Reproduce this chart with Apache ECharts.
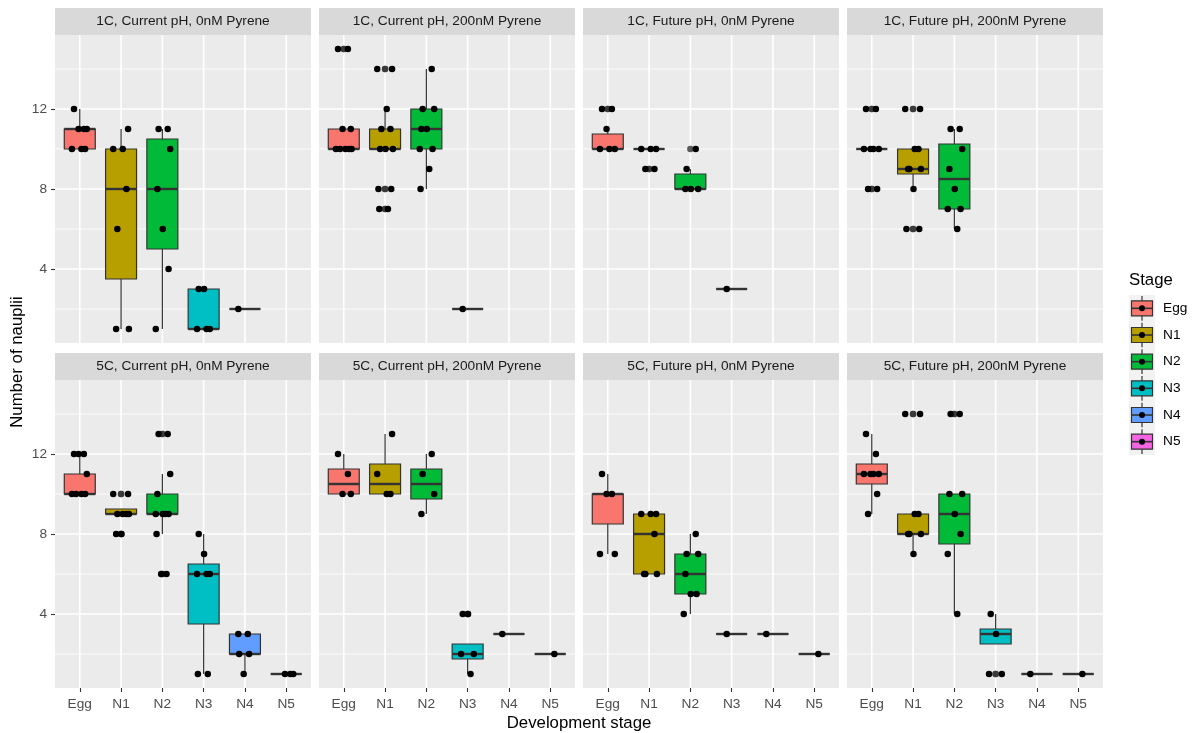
<!DOCTYPE html>
<html>
<head>
<meta charset="utf-8">
<script src="https://cdn.jsdelivr.net/npm/echarts@6/dist/echarts.min.js"></script>
<style>
  html, body { margin: 0; padding: 0; background: #ffffff; }
  #main { width: 1195px; height: 733px; }
</style>
</head>
<body>
<div id="main"></div>
<script>
// ---- data ----
const stages = ['Egg', 'N1', 'N2', 'N3', 'N4', 'N5'];
const stageColors = ['#F8766D', '#B79F00', '#00BA38', '#00BFC4', '#619CFF', '#F564E3'];
const panelTitles = [
  '1C, Current pH, 0nM Pyrene', '1C, Current pH, 200nM Pyrene',
  '1C, Future pH, 0nM Pyrene', '1C, Future pH, 200nM Pyrene',
  '5C, Current pH, 0nM Pyrene', '5C, Current pH, 200nM Pyrene',
  '5C, Future pH, 0nM Pyrene', '5C, Future pH, 200nM Pyrene'
];
const yTickValues = [4, 8, 12];
const yMinorValues = [2, 6, 10, 14];
const yLimits = [0.3, 15.7];

// box summaries per stage: [lower whisker, Q1, median, Q3, upper whisker]
const box1C_cur_0   = [[10, 10, 11, 11, 12], [1, 3.5, 8, 10, 11], [1, 5, 8, 10.5, 11], [1, 1, 1, 3, 3], [2, 2, 2, 2, 2], null];
const box1C_cur_200 = [[10, 10, 10, 11, 11], [10, 10, 10, 11, 12], [8, 10, 11, 12, 14], [2, 2, 2, 2, 2], null, null];
const box1C_fut_0   = [[10, 10, 10, 10.75, 11], [10, 10, 10, 10, 10], [8, 8, 8, 8.75, 9], [3, 3, 3, 3, 3], null, null];
const box1C_fut_200 = [[10, 10, 10, 10, 10], [8, 8.75, 9, 10, 10], [6, 7, 8.5, 10.25, 11], null, null, null];
const box5C_cur_0   = [[10, 10, 10, 11, 12], [9, 9, 9, 9.25, 9.25], [8, 9, 9, 10, 11], [1, 3.5, 6, 6.5, 8], [1, 2, 2, 3, 3], [1, 1, 1, 1, 1]];
const box5C_cur_200 = [[10, 10, 10.5, 11.25, 12], [10, 10, 10.5, 11.5, 13], [9, 9.75, 10.5, 11.25, 12], [1, 1.75, 2, 2.5, 2.5], [3, 3, 3, 3, 3], [2, 2, 2, 2, 2]];
const box5C_fut_0   = [[7, 8.5, 10, 10, 11], [6, 6, 8, 9, 9], [4, 5, 6, 7, 8], [3, 3, 3, 3, 3], [3, 3, 3, 3, 3], [2, 2, 2, 2, 2]];
const box5C_fut_200 = [[9, 10.5, 11, 11.5, 13], [7, 8, 8, 9, 9], [4, 7.5, 9, 10, 10], [2.5, 2.5, 3, 3.25, 4], [1, 1, 1, 1, 1], [1, 1, 1, 1, 1]];

// individual counts per stage
const pts1C_cur_0   = [[12, 11, 11, 11, 10, 10, 10], [11, 10, 10, 8, 6, 1, 1], [11, 11, 10, 8, 6, 4, 1], [3, 3, 1, 1, 1], [2], []];
const pts1C_cur_200 = [[15, 15, 11, 11, 10, 10, 10, 10, 10], [14, 14, 12, 11, 11, 10, 10, 10, 8, 8, 7, 7], [14, 12, 12, 11, 11, 10, 10, 9, 8], [2], [], []];
const pts1C_fut_0   = [[12, 12, 11, 10, 10, 10], [10, 10, 10, 9, 9], [10, 9, 8, 8, 8], [3], [], []];
const pts1C_fut_200 = [[12, 12, 10, 10, 10, 10, 8, 8], [12, 12, 10, 10, 9, 9, 9, 8, 6, 6], [11, 11, 10, 9, 8, 7, 7, 6], [], [], []];
const pts5C_cur_0   = [[12, 12, 12, 11, 10, 10, 10, 10], [10, 10, 9, 9, 9, 9, 8, 8], [13, 13, 11, 10, 9, 9, 9, 9, 8, 6, 6], [8, 7, 6, 6, 6, 1, 1], [3, 3, 2, 2, 1], [1, 1, 1]];
const pts5C_cur_200 = [[12, 11, 10, 10], [13, 11, 10, 10], [12, 11, 10, 9], [4, 4, 2, 2, 1], [3], [2]];
const pts5C_fut_0   = [[11, 10, 10, 7, 7], [9, 9, 9, 8, 6, 6, 6], [8, 7, 7, 6, 5, 5, 4], [3], [3], [2]];
const pts5C_fut_200 = [[13, 12, 11, 11, 11, 11, 10, 9], [14, 14, 9, 9, 8, 8, 8, 7], [14, 14, 10, 10, 9, 8, 7, 4], [4, 3, 1, 1], [1], [1]];

const panelBoxes = [box1C_cur_0, box1C_cur_200, box1C_fut_0, box1C_fut_200, box5C_cur_0, box5C_cur_200, box5C_fut_0, box5C_fut_200];
const panelPoints = [pts1C_cur_0, pts1C_cur_200, pts1C_fut_0, pts1C_fut_200, pts5C_cur_0, pts5C_cur_200, pts5C_fut_0, pts5C_fut_200];

// ---- layout & style ----
const FONT = '"Liberation Sans", Arial, sans-serif';
const PANEL_LEFT = [55, 319, 583, 847];
const PANEL_W = 256;
const ROW_TOP = [35, 380];
const PANEL_H = 308;
const STRIP_H = 27;
const BOX_WIDTH = 0.75;
const X_RANGE = [0.4, 6.6];
const DOT_SIZE = 6.5;
// horizontal spread pattern for the dots (in category units)
const JITTER = [-0.14, 0.1, -0.03, 0.17, -0.19, 0.04, 0.13, -0.09, 0.19, -0.12, 0.01, 0.15, -0.16, 0.07];
const categoryValues = stages.map((s, k) => k + 1);

const grids = [], xAxes = [], yAxes = [], series = [], graphics = [];

panelTitles.forEach((title, i) => {
  const col = i % 4, row = Math.floor(i / 4);
  grids.push({
    left: PANEL_LEFT[col], top: ROW_TOP[row], width: PANEL_W, height: PANEL_H,
    show: true, backgroundColor: '#EBEBEB', borderWidth: 0
  });
  xAxes.push({
    type: 'value', gridIndex: i, min: X_RANGE[0], max: X_RANGE[1],
    axisLine: { show: false }, splitLine: { show: false },
    axisTick: { show: row === 1, length: 4, lineStyle: { color: '#333333', width: 1.1 }, customValues: categoryValues },
    axisLabel: {
      show: row === 1, customValues: categoryValues, margin: 9,
      formatter: v => stages[Math.round(v) - 1] || '',
      color: '#4D4D4D', fontSize: 13.7, fontFamily: FONT
    }
  });
  yAxes.push({
    type: 'value', gridIndex: i, min: yLimits[0], max: yLimits[1],
    axisLine: { show: false }, splitLine: { show: false },
    axisTick: { show: col === 0, length: 4, lineStyle: { color: '#333333', width: 1.1 }, customValues: yTickValues },
    axisLabel: {
      show: col === 0, customValues: yTickValues, margin: 8,
      color: '#4D4D4D', fontSize: 13.7, fontFamily: FONT
    }
  });

  // panel grid lines
  series.push({
    type: 'custom', xAxisIndex: i, yAxisIndex: i, silent: true, z: 1,
    data: [[1, 4]],
    renderItem: (params, api) => {
      const children = [];
      const hLine = (v, w) => {
        const a = api.coord([X_RANGE[0], v]), b = api.coord([X_RANGE[1], v]);
        children.push({ type: 'line', shape: { x1: a[0], y1: a[1], x2: b[0], y2: b[1] }, style: { stroke: '#FFFFFF', lineWidth: w } });
      };
      const vLine = (v, w) => {
        const a = api.coord([v, yLimits[0]]), b = api.coord([v, yLimits[1]]);
        children.push({ type: 'line', shape: { x1: a[0], y1: a[1], x2: b[0], y2: b[1] }, style: { stroke: '#FFFFFF', lineWidth: w } });
      };
      yMinorValues.forEach(v => hLine(v, 0.8));
      yTickValues.forEach(v => hLine(v, 1.6));
      categoryValues.forEach(v => vLine(v, 1.6));
      return { type: 'group', children };
    }
  });

  // boxes with whiskers
  const boxData = [];
  panelBoxes[i].forEach((b, k) => { if (b) boxData.push([k + 1, b[0], b[1], b[2], b[3], b[4], k]); });
  series.push({
    type: 'custom', xAxisIndex: i, yAxisIndex: i, silent: true, z: 2,
    dimensions: ['x', 'lo', 'q1', 'med', 'q3', 'hi', 'stage'],
    encode: { x: 0, y: [1, 2, 3, 4, 5] },
    data: boxData,
    renderItem: (params, api) => {
      const x = api.value(0);
      const cx = api.coord([x, api.value(3)])[0];
      const yLo = api.coord([x, api.value(1)])[1];
      const yQ1 = api.coord([x, api.value(2)])[1];
      const yMed = api.coord([x, api.value(3)])[1];
      const yQ3 = api.coord([x, api.value(4)])[1];
      const yHi = api.coord([x, api.value(5)])[1];
      const half = api.size([BOX_WIDTH, 0])[0] / 2;
      const color = stageColors[api.value(6)];
      const edge = { stroke: '#333333', lineWidth: 1.2 };
      return {
        type: 'group',
        children: [
          { type: 'line', shape: { x1: cx, y1: yQ3, x2: cx, y2: yHi }, style: edge },
          { type: 'line', shape: { x1: cx, y1: yQ1, x2: cx, y2: yLo }, style: edge },
          { type: 'rect', shape: { x: cx - half, y: yQ3, width: 2 * half, height: yQ1 - yQ3 }, style: { fill: color, stroke: '#333333', lineWidth: 1.2 } },
          { type: 'line', shape: { x1: cx - half, y1: yMed, x2: cx + half, y2: yMed }, style: { stroke: '#333333', lineWidth: 2.4 } }
        ]
      };
    }
  });

  // values beyond the whiskers, drawn at the box centre
  const outData = [];
  panelPoints[i].forEach((vals, k) => {
    const b = panelBoxes[i][k];
    if (!b) return;
    vals.forEach(v => { if (v < b[0] || v > b[4]) outData.push([k + 1, v]); });
  });
  series.push({
    type: 'scatter', xAxisIndex: i, yAxisIndex: i, silent: true, z: 3,
    symbol: 'circle', symbolSize: DOT_SIZE, itemStyle: { color: '#333333' },
    data: outData
  });

  // individual observations
  const dotData = [];
  panelPoints[i].forEach((vals, k) => {
    vals.forEach((v, n) => dotData.push([k + 1 + JITTER[(n + k * 3) % JITTER.length], v]));
  });
  series.push({
    type: 'scatter', xAxisIndex: i, yAxisIndex: i, silent: true, z: 4,
    symbol: 'circle', symbolSize: DOT_SIZE, itemStyle: { color: '#000000', opacity: 1 },
    data: dotData
  });

  // facet strip
  const stripTop = ROW_TOP[row] - STRIP_H;
  graphics.push({
    type: 'rect', shape: { x: PANEL_LEFT[col], y: stripTop, width: PANEL_W, height: STRIP_H },
    style: { fill: '#D9D9D9' }, silent: true
  });
  graphics.push({
    type: 'text', x: PANEL_LEFT[col] + PANEL_W / 2, y: stripTop + STRIP_H / 2, silent: true,
    style: { text: title, fill: '#1A1A1A', fontSize: 13.7, fontFamily: FONT, align: 'center', verticalAlign: 'middle' }
  });
});

// axis titles
graphics.push({
  type: 'text', x: 579, y: 723, silent: true,
  style: { text: 'Development stage', fill: '#000000', fontSize: 16.8, fontFamily: FONT, align: 'center', verticalAlign: 'middle' }
});
graphics.push({
  type: 'text', x: 17, y: 362, rotation: Math.PI / 2, silent: true,
  style: { text: 'Number of nauplii', fill: '#000000', fontSize: 16.8, fontFamily: FONT, align: 'center', verticalAlign: 'middle' }
});

// legend
const LEG_X = 1129, LEG_TOP = 295, KEY_W = 26, KEY_H = 26.67;
graphics.push({
  type: 'text', x: LEG_X, y: 280, silent: true,
  style: { text: 'Stage', fill: '#000000', fontSize: 16.8, fontFamily: FONT, align: 'left', verticalAlign: 'middle' }
});
graphics.push({
  type: 'rect', shape: { x: LEG_X, y: LEG_TOP, width: KEY_W, height: KEY_H * stages.length },
  style: { fill: '#F2F2F2' }, silent: true
});
stages.forEach((s, k) => {
  const cy = LEG_TOP + KEY_H * (k + 0.5);
  const cx = LEG_X + KEY_W / 2;
  graphics.push({ type: 'line', shape: { x1: cx, y1: cy - KEY_H / 2 + 1, x2: cx, y2: cy + KEY_H / 2 - 1 }, style: { stroke: '#333333', lineWidth: 1.2 }, silent: true });
  graphics.push({ type: 'rect', shape: { x: cx - 10.5, y: cy - 7.5, width: 21, height: 15 }, style: { fill: stageColors[k], stroke: '#333333', lineWidth: 1.2 }, silent: true });
  graphics.push({ type: 'line', shape: { x1: cx - 10.5, y1: cy, x2: cx + 10.5, y2: cy }, style: { stroke: '#333333', lineWidth: 1.6 }, silent: true });
  graphics.push({ type: 'circle', shape: { cx: cx, cy: cy, r: 3 }, style: { fill: '#000000' }, silent: true });
  graphics.push({
    type: 'text', x: LEG_X + KEY_W + 8, y: cy, silent: true,
    style: { text: s, fill: '#000000', fontSize: 13.7, fontFamily: FONT, align: 'left', verticalAlign: 'middle' }
  });
});

const chart = echarts.init(document.getElementById('main'), null, { renderer: 'canvas' });
chart.setOption({
  animation: false,
  backgroundColor: '#FFFFFF',
  grid: grids,
  xAxis: xAxes,
  yAxis: yAxes,
  series: series,
  graphic: { elements: graphics }
});
</script>
</body>
</html>
